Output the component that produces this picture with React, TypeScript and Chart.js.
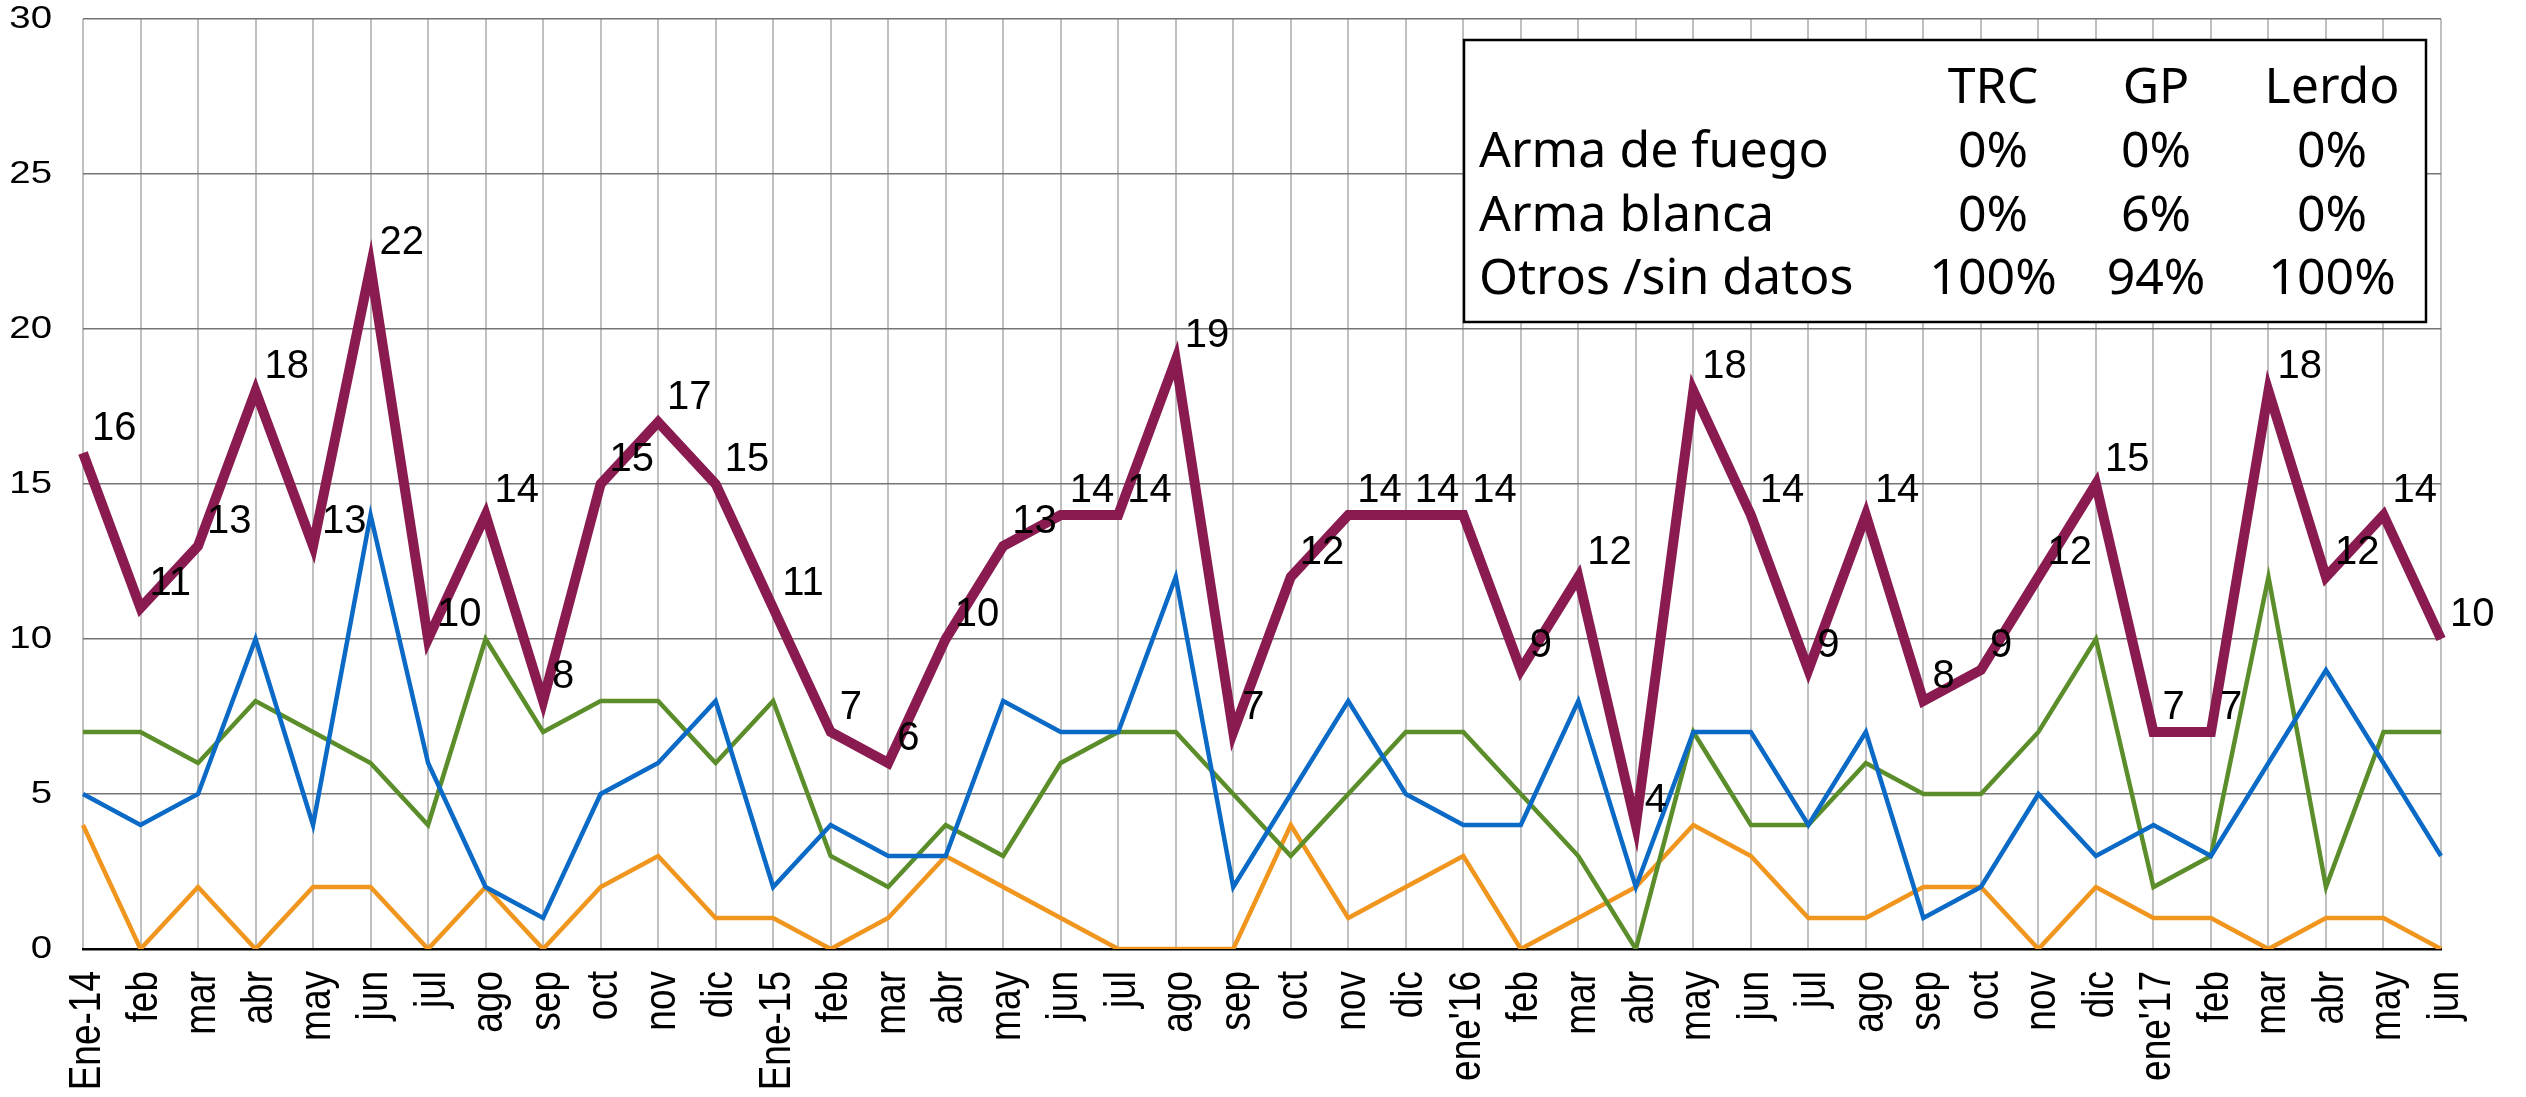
import React, { useEffect, useRef } from 'react';
import { Chart, registerables } from 'chart.js';

Chart.register(...registerables);

const categories = [
  'Ene-14', 'feb', 'mar', 'abr', 'may', 'jun', 'jul', 'ago', 'sep', 'oct', 'nov', 'dic',
  'Ene-15', 'feb', 'mar', 'abr', 'may', 'jun', 'jul', 'ago', 'sep', 'oct', 'nov', 'dic',
  "ene'16", 'feb', 'mar', 'abr', 'may', 'jun', 'jul', 'ago', 'sep', 'oct', 'nov', 'dic',
  "ene'17", 'feb', 'mar', 'abr', 'may', 'jun',
];

const totalValues = [
  16, 11, 13, 18, 13, 22, 10, 14, 8, 15, 17, 15,
  11, 7, 6, 10, 13, 14, 14, 19, 7, 12, 14, 14,
  14, 9, 12, 4, 18, 14, 9, 14, 8, 9, 12, 15,
  7, 7, 18, 12, 14, 10,
];

const trcValues = [
  5, 4, 5, 10, 4, 14, 6, 2, 1, 5, 6, 8,
  2, 4, 3, 3, 8, 7, 7, 12, 2, 5, 8, 5,
  4, 4, 8, 2, 7, 7, 4, 7, 1, 2, 5, 3,
  4, 3, 6, 9, 6, 3,
];

const gpValues = [
  7, 7, 6, 8, 7, 6, 4, 10, 7, 8, 8, 6,
  8, 3, 2, 4, 3, 6, 7, 7, 5, 3, 5, 7,
  7, 5, 3, 0, 7, 4, 4, 6, 5, 5, 7, 10,
  2, 3, 12, 2, 7, 7,
];

const lerdoValues = [
  4, 0, 2, 0, 2, 2, 0, 2, 0, 2, 3, 1,
  1, 0, 1, 3, 2, 1, 0, 0, 0, 4, 1, 2,
  3, 0, 1, 2, 4, 3, 1, 1, 2, 2, 0, 2,
  1, 1, 0, 1, 1, 0,
];

const yTicks = [0, 5, 10, 15, 20, 25, 30];

const tableHeaders = ['TRC', 'GP', 'Lerdo'];
const tableRowLabels = ['Arma de fuego', 'Arma blanca', 'Otros /sin datos'];
const tableValues = [
  ['0%', '0%', '0%'],
  ['0%', '6%', '0%'],
  ['100%', '94%', '100%'],
];

const AXIS_FONT = '"Liberation Sans", Arial, Helvetica, sans-serif';
const LABEL_STRETCH = 1.2;

// Wrap a scale's label drawing so every tick label gets a slight horizontal stretch
function stretchLabels(scale: any) {
  if (scale.__stretched) return;
  scale.__stretched = true;
  const orig = scale.drawLabels.bind(scale);
  scale.drawLabels = (area: any) => {
    const ctx = scale.ctx;
    const origTranslate = ctx.translate;
    ctx.translate = function (x: number, y: number) {
      origTranslate.call(this, x, y);
      this.scale(LABEL_STRETCH, 1);
    };
    try {
      orig(area);
    } finally {
      ctx.translate = origTranslate;
    }
  };
}

const dataLabelPlugin = {
  id: 'totalLabels',
  afterDatasetsDraw(chart: any) {
    const ctx = chart.ctx;
    const meta = chart.getDatasetMeta(0);
    const data = chart.data.datasets[0].data;
    ctx.save();
    ctx.font = `40px ${AXIS_FONT}`;
    ctx.fillStyle = '#000';
    ctx.textAlign = 'left';
    ctx.textBaseline = 'alphabetic';
    meta.data.forEach((el: any, i: number) => {
      ctx.fillText(String(data[i]), el.x + 9, el.y - 13);
    });
    ctx.restore();
  },
};

const tablePlugin = {
  id: 'tableBox',
  afterDraw(chart: any) {
    const ctx = chart.ctx;
    const x0 = 1464, y0 = 40, x1 = 2426, y1 = 322;
    ctx.save();
    ctx.fillStyle = '#fff';
    ctx.fillRect(x0, y0, x1 - x0, y1 - y0);
    ctx.strokeStyle = '#000';
    ctx.lineWidth = 2.5;
    ctx.strokeRect(x0, y0, x1 - x0, y1 - y0);
    ctx.fillStyle = '#000';
    ctx.font = '50px "Noto Sans", sans-serif';
    ctx.textBaseline = 'alphabetic';
    const colX = [1993, 2156, 2332];
    const headerY = 103;
    const rowY = [167, 231, 294];
    ctx.textAlign = 'center';
    tableHeaders.forEach((h, i) => ctx.fillText(h, colX[i], headerY));
    tableRowLabels.forEach((label, r) => {
      ctx.textAlign = 'left';
      ctx.fillText(label, 1479, rowY[r]);
      ctx.textAlign = 'center';
      tableValues[r].forEach((v, c) => ctx.fillText(v, colX[c], rowY[r]));
    });
    ctx.restore();
  },
};

export default function App() {
  const canvasRef = useRef<HTMLCanvasElement | null>(null);

  useEffect(() => {
    const canvas = canvasRef.current;
    if (!canvas) return;
    const thin = 4.5;
    const chart = new Chart(canvas, {
      type: 'line',
      data: {
        labels: categories,
        datasets: [
          {
            label: 'Total',
            data: totalValues,
            borderColor: '#8A1B50',
            borderWidth: 10,
            borderJoinStyle: 'miter',
            pointRadius: 0,
            tension: 0,
            fill: false,
          },
          {
            label: 'TRC',
            data: trcValues,
            borderColor: '#0A6AC6',
            borderWidth: thin,
            borderJoinStyle: 'miter',
            pointRadius: 0,
            tension: 0,
            fill: false,
          },
          {
            label: 'GP',
            data: gpValues,
            borderColor: '#5B8E2B',
            borderWidth: thin,
            borderJoinStyle: 'miter',
            pointRadius: 0,
            tension: 0,
            fill: false,
          },
          {
            label: 'Lerdo',
            data: lerdoValues,
            borderColor: '#F0961F',
            borderWidth: thin,
            borderJoinStyle: 'miter',
            pointRadius: 0,
            tension: 0,
            fill: false,
          },
        ],
      },
      options: {
        animation: false,
        responsive: true,
        maintainAspectRatio: false,
        layout: { padding: { top: 19, right: 85, left: 0, bottom: 0 } },
        plugins: {
          legend: { display: false },
          tooltip: { enabled: false },
        },
        scales: {
          x: {
            type: 'category',
            offset: false,
            grid: { color: '#c0c0c0', lineWidth: 2, drawTicks: false },
            border: { display: true, color: '#000', width: 2.5 },
            ticks: {
              autoSkip: false,
              minRotation: 90,
              maxRotation: 90,
              padding: 22,
              color: '#000',
              font: { family: AXIS_FONT, size: 37 },
            },
            afterFit: (scale: any) => {
              scale.height = 1097 - 949;
              scale.paddingLeft = 0;
              scale.paddingRight = 0;
              stretchLabels(scale);
            },
          },
          y: {
            min: 0,
            max: 30,
            grid: { color: '#747474', lineWidth: 1.5, drawTicks: false },
            border: { display: false },
            ticks: {
              stepSize: 5,
              padding: 31,
              color: '#000',
              font: { family: AXIS_FONT, size: 32 },
            },
            afterBuildTicks: (scale: any) => {
              scale.ticks = yTicks.map((v) => ({ value: v }));
            },
            afterFit: (scale: any) => {
              scale.width = 83;
              scale.paddingTop = 0;
              scale.paddingBottom = 0;
              stretchLabels(scale);
            },
          },
        },
      },
      plugins: [dataLabelPlugin, tablePlugin],
    });
    return () => chart.destroy();
  }, []);

  return (
    <div style={{ position: 'fixed', left: 0, top: 0, width: 2526, height: 1097, background: '#fff' }}>
      <canvas ref={canvasRef} />
    </div>
  );
}
